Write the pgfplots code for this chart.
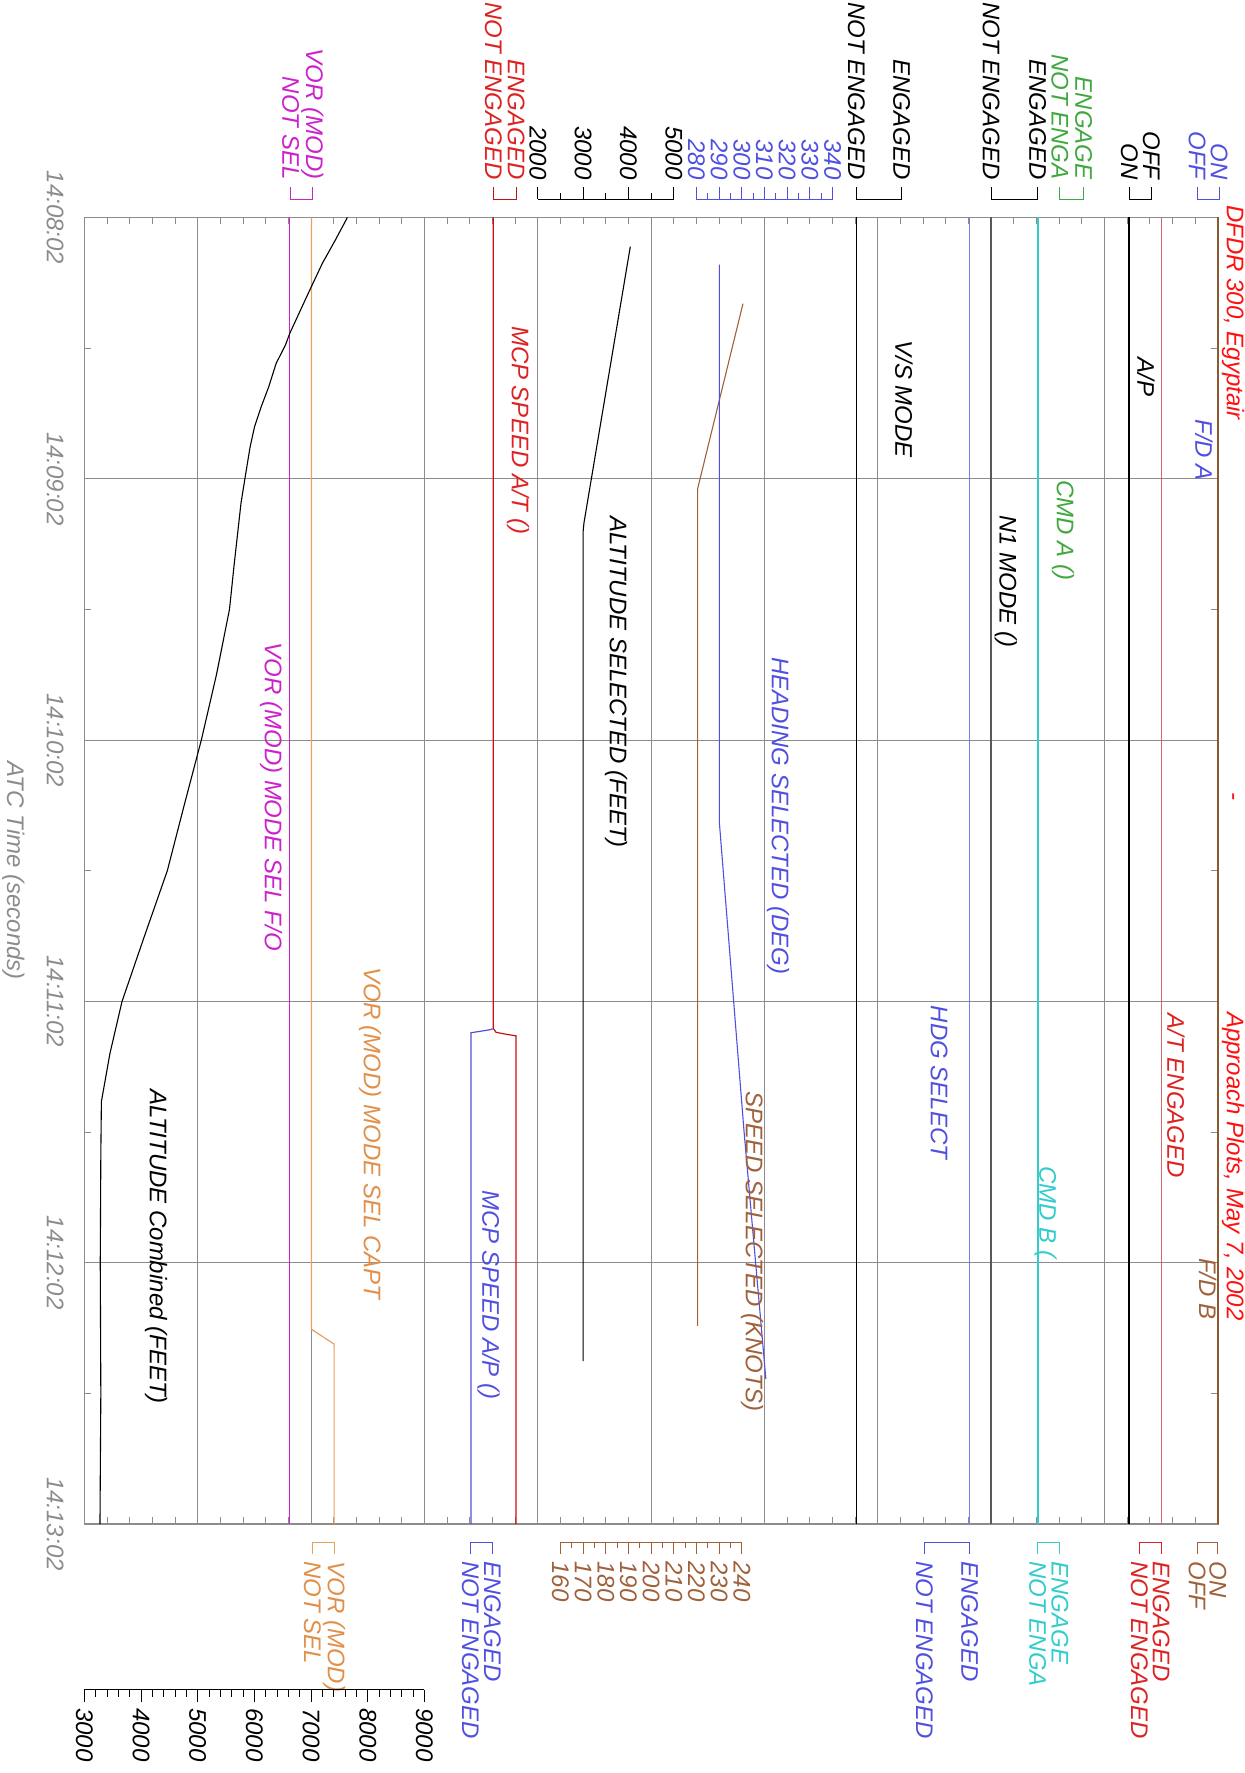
\documentclass[border=0pt]{standalone}
\usepackage{pgfplots}
\pgfplotsset{compat=1.18}
\usepackage{pgfplotstable}
\usepackage{fontspec}
\setmainfont{Liberation Sans}
\definecolor{cgrid}{HTML}{8C8C8C}
\definecolor{cmag}{HTML}{CC22CC}
\definecolor{corange}{HTML}{E8A060}
\definecolor{corangeT}{HTML}{E0904A}
\definecolor{cred}{HTML}{C81010}
\definecolor{credT}{HTML}{DD2222}
\definecolor{cblue}{HTML}{5050E0}
\definecolor{cblueL}{HTML}{7C7CE8}
\definecolor{cbrown}{HTML}{A0603A}
\definecolor{cbrownF}{HTML}{8B5A30}
\definecolor{ccyan}{HTML}{33CCCC}
\definecolor{cgreen}{HTML}{3FA83F}
\definecolor{cpink}{HTML}{D06A6A}
\definecolor{ctime}{HTML}{8C8C8C}
\definecolor{ctitle}{HTML}{FF1010}
\tikzset{lab/.style={rotate=-90, inner sep=0pt, font=\fontsize{12}{14}\selectfont\itshape}}
\newcommand{\TL}[3]{\node[lab,anchor=east,text=#1] at (axis cs:#2,-8.6) {#3};}
\newcommand{\BL}[3]{\node[lab,anchor=west,text=#1] at (axis cs:#2,308.5) {#3};}
\newcommand{\TB}[3]{\draw[#1,line width=0.5pt] (axis cs:#2,-7) -- (axis cs:#2,-4.18) -- (axis cs:#3,-4.18) -- (axis cs:#3,-7);}
\newcommand{\BB}[3]{\draw[#1,line width=0.5pt] (axis cs:#2,307) -- (axis cs:#2,304.3) -- (axis cs:#3,304.3) -- (axis cs:#3,307);}
\newcommand{\IL}[4]{\node[lab,text=#1] at (axis cs:#2,#3) {#4};}

% ALTITUDE Combined (FEET): time in s after 14:08:02, altitude in ft
\pgfplotstableread{
t alt
0 7640
5.2 7427
10.5 7200
15.9 7004
20.5 6840
26.6 6624
29.3 6547
33.5 6383
38.9 6252
43.4 6121
48.0 6003
52.6 5925
58.7 5848
65.6 5763
80 5640
90 5560
105 5330
120 5063
135 4760
150 4463
165 4060
180 3664
192 3450
203 3300
215 3290
240 3280
270 3290
300 3275
}\altcomb
% ALTITUDE SELECTED (FEET)
\pgfplotstableread{
t alt
6.7 4040
70 3020
72 3000
262.6 3000
}\altsel
% SPEED SELECTED (KNOTS)
\pgfplotstableread{
t spd
19.8 240.5
62.3 220.5
254.5 220.5
}\spdsel
% HEADING SELECTED (DEG)
\pgfplotstableread{
t hdg
10.8 290.1
139 290.1
210 301.0
266.7 310.6
}\hdgsel

\begin{document}
\begin{tikzpicture}
\begin{axis}[
  scale only axis, width=566.75pt, height=653.25pt,
  xmin=0, xmax=10, ymin=0, ymax=300, y dir=reverse,
  clip=false,
  axis line style={cgrid, line width=0.8pt},
  xtick={0,1,...,10}, xticklabels={}, minor x tick num=4,
  ytick={0,60,...,300}, yticklabels={}, minor y tick num=1,
  xmajorgrids, ymajorgrids,
  major grid style={cgrid, line width=0.5pt},
  tick align=inside, tick pos=both,
  major tick length=0pt, minor tick length=3.4pt,
  minor tick style={cgrid, line width=0.5pt},
]
% ---- discrete parameters ----
\addplot[cmag, line width=0.6pt] coordinates {(1.811,0) (1.811,300)};
\addplot[corange, line width=0.6pt] coordinates {(2.004,0) (2.004,255.3) (2.203,258.7) (2.203,300)};
\addplot[cblue, line width=0.6pt] coordinates {(3.602,186.3) (3.58,186.5) (3.411,187.2) (3.411,300)};
\addplot[cred, line width=0.6pt] coordinates {(3.607,0) (3.607,186.2) (3.632,187.1) (3.732,187.6) (3.808,187.9) (3.808,300)};
\addplot[black, line width=0.7pt] coordinates {(6.813,0) (6.813,300)};
\addplot[cblueL, line width=0.6pt] coordinates {(7.81,0) (7.81,300)};
\addplot[black!65, line width=0.8pt] coordinates {(8.0,0) (8.0,300)};
\addplot[ccyan, line width=0.7pt] coordinates {(8.413,0) (8.413,300)};
\addplot[black, line width=0.6pt] coordinates {(9.215,0) (9.215,300)};
\addplot[cpink, line width=0.7pt] coordinates {(9.5,0) (9.5,300)};
\addplot[cblue, line width=0.6pt] coordinates {(10.0,0) (10.0,300)};
\addplot[cbrownF, line width=1.2pt] coordinates {(10.0,0) (10.0,300)};
% ---- continuous parameters ----
\addplot[black, line width=0.55pt] table[x expr={(\thisrow{alt}-3000)/2000}, y=t] {\altcomb};
\addplot[black, line width=0.55pt] table[x expr={4+(\thisrow{alt}-2000)/2500}, y=t] {\altsel};
\addplot[cbrown, line width=0.55pt] table[x expr={4.2+(\thisrow{spd}-160)/50}, y=t] {\spdsel};
\addplot[cblue, line width=0.55pt] table[x expr={5.4+(\thisrow{hdg}-280)/50}, y=t] {\hdgsel};

% ---- time labels ----
\IL{ctime}{-0.259}{0}{14:08:02}
\IL{ctime}{-0.259}{60}{14:09:02}
\IL{ctime}{-0.259}{120}{14:10:02}
\IL{ctime}{-0.259}{180}{14:11:02}
\IL{ctime}{-0.259}{240}{14:12:02}
\IL{ctime}{-0.259}{300}{14:13:02}
\IL{ctime}{-0.627}{150}{ATC Time (seconds)}

% ---- top brackets and scales ----
\TB{cmag}{1.819}{2.011}
\TL{cmag}{1.819}{NOT SEL}
\TL{cmag}{2.011}{VOR (MOD)}
\TB{cred}{3.609}{3.808}
\TL{credT}{3.609}{NOT ENGAGED}
\TL{credT}{3.808}{ENGAGED}
\draw[black,line width=0.5pt] (axis cs:4.0,-4.18) -- (axis cs:5.2,-4.18);
\pgfplotsinvokeforeach{4.0,4.4,4.8,5.2}{\draw[black,line width=0.5pt] (axis cs:#1,-4.18) -- (axis cs:#1,-7);}
\pgfplotsinvokeforeach{4.2,4.6,5.0}{\draw[black,line width=0.5pt] (axis cs:#1,-4.18) -- (axis cs:#1,-5.6);}
\TL{black}{4.0}{2000}
\TL{black}{4.4}{3000}
\TL{black}{4.8}{4000}
\TL{black}{5.2}{5000}
\draw[cblue,line width=0.5pt] (axis cs:5.4,-4.18) -- (axis cs:6.6,-4.18);
\pgfplotsinvokeforeach{5.4,5.6,5.8,6.0,6.2,6.4,6.6}{\draw[cblue,line width=0.5pt] (axis cs:#1,-4.18) -- (axis cs:#1,-7);}
\pgfplotsinvokeforeach{5.5,5.7,5.9,6.1,6.3,6.5}{\draw[cblue,line width=0.5pt] (axis cs:#1,-4.18) -- (axis cs:#1,-5.6);}
\TL{cblue}{5.4}{280}
\TL{cblue}{5.6}{290}
\TL{cblue}{5.8}{300}
\TL{cblue}{6.0}{310}
\TL{cblue}{6.2}{320}
\TL{cblue}{6.4}{330}
\TL{cblue}{6.6}{340}
\TB{black}{6.81}{7.21}
\TL{black}{6.81}{NOT ENGAGED}
\TL{black}{7.21}{ENGAGED}
\TB{black}{8.0}{8.41}
\TL{black}{8.0}{NOT ENGAGED}
\TL{black}{8.41}{ENGAGED}
\TB{cgreen}{8.605}{8.816}
\TL{cgreen}{8.605}{NOT ENGA}
\TL{cgreen}{8.816}{ENGAGE}
\TB{black}{9.219}{9.413}
\TL{black}{9.219}{ON}
\TL{black}{9.413}{OFF}
\TB{cblue}{9.816}{10.01}
\TL{cblue}{9.816}{OFF}
\TL{cblue}{10.01}{ON}

% ---- bottom brackets and scales ----
\BB{corange}{2.011}{2.203}
\BL{corangeT}{2.011}{NOT SEL}
\BL{corangeT}{2.203}{VOR (MOD)}
\BB{cblue}{3.406}{3.599}
\BL{cblue}{3.406}{NOT ENGAGED}
\BL{cblue}{3.599}{ENGAGED}
\draw[cbrown,line width=0.5pt] (axis cs:4.2,304.3) -- (axis cs:5.8,304.3);
\pgfplotsinvokeforeach{4.2,4.4,4.6,4.8,5.0,5.2,5.4,5.6,5.8}{\draw[cbrown,line width=0.5pt] (axis cs:#1,304.3) -- (axis cs:#1,307);}
\pgfplotsinvokeforeach{4.3,4.5,4.7,4.9,5.1,5.3,5.5,5.7}{\draw[cbrown,line width=0.5pt] (axis cs:#1,304.3) -- (axis cs:#1,305.6);}
\BL{cbrown}{4.2}{160}
\BL{cbrown}{4.4}{170}
\BL{cbrown}{4.6}{180}
\BL{cbrown}{4.8}{190}
\BL{cbrown}{5.0}{200}
\BL{cbrown}{5.2}{210}
\BL{cbrown}{5.4}{220}
\BL{cbrown}{5.6}{230}
\BL{cbrown}{5.8}{240}
\BB{cblue}{7.41}{7.81}
\BL{cblue}{7.41}{NOT ENGAGED}
\BL{cblue}{7.81}{ENGAGED}
\BB{ccyan}{8.41}{8.605}
\BL{ccyan}{8.41}{NOT ENGA}
\BL{ccyan}{8.605}{ENGAGE}
\BB{credT}{9.307}{9.5}
\BL{credT}{9.307}{NOT ENGAGED}
\BL{credT}{9.5}{ENGAGED}
\BB{cbrown}{9.816}{10.0}
\BL{cbrown}{9.816}{OFF}
\BL{cbrown}{10.0}{ON}

% ---- altitude combined scale (bottom left) ----
\draw[black,line width=0.5pt] (axis cs:0,338.1) -- (axis cs:3,338.1);
\pgfplotsinvokeforeach{0,0.1,0.2,0.3,0.4,0.5,0.6,0.7,0.8,0.9,1.0,1.1,1.2,1.3,1.4,1.5,1.6,1.7,1.8,1.9,2.0,2.1,2.2,2.3,2.4,2.5,2.6,2.7,2.8,2.9,3.0}{\draw[black,line width=0.5pt] (axis cs:#1,338.1) -- (axis cs:#1,339.7);}
\pgfplotsinvokeforeach{0,0.5,1.0,1.5,2.0,2.5,3.0}{\draw[black,line width=0.5pt] (axis cs:#1,338.1) -- (axis cs:#1,340.8);}
\node[lab,anchor=west] at (axis cs:0,342.2) {3000};
\node[lab,anchor=west] at (axis cs:0.5,342.2) {4000};
\node[lab,anchor=west] at (axis cs:1.0,342.2) {5000};
\node[lab,anchor=west] at (axis cs:1.5,342.2) {6000};
\node[lab,anchor=west] at (axis cs:2.0,342.2) {7000};
\node[lab,anchor=west] at (axis cs:2.5,342.2) {8000};
\node[lab,anchor=west] at (axis cs:3.0,342.2) {9000};

% ---- labels inside plot ----
\IL{credT}{3.825}{48.8}{MCP SPEED A/T ()}
\IL{black}{7.23}{41.7}{V/S MODE}
\IL{black}{9.366}{36.7}{A/P}
\IL{cblue}{9.877}{53.4}{F/D A}
\IL{cgreen}{8.634}{71.8}{CMD A ()}
\IL{black}{8.13}{83.5}{N1 MODE ()}
\IL{black}{4.69}{106.7}{ALTITUDE SELECTED (FEET)}
\IL{cblue}{6.12}{137.4}{HEADING SELECTED (DEG)}
\IL{cmag}{1.646}{133}{VOR (MOD) MODE SEL F/O}
\IL{corangeT}{2.52}{210.3}{VOR (MOD) MODE SEL CAPT}
\IL{credT}{9.63}{201.7}{A/T ENGAGED}
\IL{cblue}{7.54}{198.6}{HDG SELECT}
\IL{cbrown}{5.89}{237.5}{SPEED SELECTED (KNOTS)}
\IL{ccyan}{8.48}{228.5}{CMD B (}
\IL{cbrown}{9.91}{246}{F/D B}
\IL{cblue}{3.565}{247.4}{MCP SPEED A/P ()}
\IL{black}{0.633}{236.3}{ALTITUDE Combined (FEET)}

% ---- title (cut by the right edge) ----
\node[lab,anchor=base west,text=ctitle] at (axis cs:10.078,-2.9) {DFDR 300, Egyptair};
\node[lab,anchor=base,text=ctitle] at (axis cs:10.078,133) {-};
\node[lab,anchor=base west,text=ctitle] at (axis cs:10.078,182.4) {Approach Plots, May 7, 2002};

\coordinate (BBsw) at (axis cs:-0.74459,357.18);
\coordinate (BBne) at (axis cs:10.2303,-49.943);
\end{axis}
\pgfresetboundingbox
\useasboundingbox (BBsw) rectangle (BBne);
\end{tikzpicture}
\end{document}
